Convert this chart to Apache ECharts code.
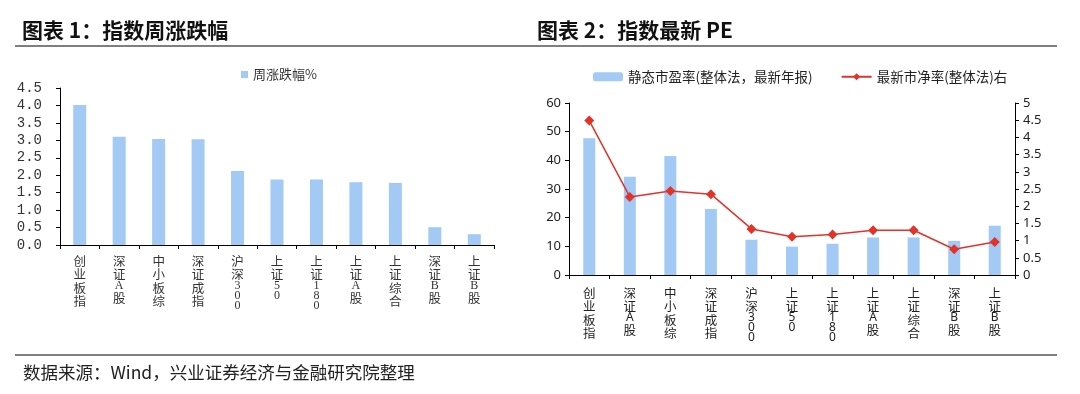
<!DOCTYPE html>
<html>
<head>
<meta charset="utf-8">
<script src="https://cdn.jsdelivr.net/npm/echarts@6/dist/echarts.min.js"></script>
<style>
html,body{margin:0;padding:0;background:#fff;}
#main{width:1080px;height:394px;}
</style>
</head>
<body>
<div id="main"></div>
<script>
const categories = ['创业板指','深证A股','中小板综','深证成指','沪深300','上证50','上证180','上证A股','上证综合','深证B股','上证B股'];
const weeklyChange = [4.01, 3.10, 3.04, 3.03, 2.12, 1.88, 1.88, 1.80, 1.78, 0.51, 0.31];
const peValues = [47.7, 34.3, 41.5, 23.0, 12.3, 9.9, 10.9, 13.1, 13.1, 11.9, 17.2];
const pbValues = [4.49, 2.27, 2.44, 2.35, 1.34, 1.11, 1.18, 1.30, 1.30, 0.75, 0.96];
const leftTicks = [0, 4.5, 0.5];
const peTicks = [0, 60, 10];
const pbTicks = [0, 5, 0.5];

const CJK = '"Noto Sans CJK SC", "Noto Sans", sans-serif';
const SERIF = '"Liberation Serif", "DejaVu Serif", "Noto Sans CJK SC", serif';
const MONO = '"Liberation Mono", "DejaVu Sans Mono", monospace';

function vertical(name) {
  return name.split('').map(ch => /[\u4e00-\u9fff]/.test(ch) ? '{c|' + ch + '}' : '{d|' + ch + '}').join('\n');
}
function richFor(font, color) {
  return {
    c: {fontFamily: CJK, fontSize: 12.5, lineHeight: 13.5, color: color},
    d: {fontFamily: font, fontSize: 12, lineHeight: 10, color: color}
  };
}

const chart = echarts.init(document.getElementById('main'), null, {renderer: 'canvas'});
const barColor = '#A3C9F5';
const lineColor = '#E2332B';

chart.setOption({
  animation: false,
  backgroundColor: '#fff',
  title: [
    {text: '图表 1：指数周涨跌幅', left: 17, top: 15, textStyle: {fontFamily: CJK, fontSize: 21, fontWeight: 'bold', color: '#111'}},
    {text: '图表 2：指数最新 PE', left: 532, top: 15, textStyle: {fontFamily: CJK, fontSize: 21, fontWeight: 'bold', color: '#111'}},
    {text: '数据来源：Wind，兴业证券经济与金融研究院整理', left: 18, top: 359, textStyle: {fontFamily: CJK, fontSize: 17.5, fontWeight: 'normal', color: '#222'}}
  ],
  graphic: [
    {type: 'line', shape: {x1: 15, y1: 46, x2: 1057, y2: 46}, style: {stroke: '#555', lineWidth: 1.5}},
    {type: 'line', shape: {x1: 15, y1: 355, x2: 1057, y2: 355}, style: {stroke: '#555', lineWidth: 1.5}}
  ],
  legend: [
    {
      data: ['周涨跌幅%'], left: 236, top: 63, itemWidth: 7, itemHeight: 7, icon: 'rect', itemGap: 5,
      textStyle: {fontFamily: CJK, fontSize: 13, color: '#333'}
    },
    {
      data: ['静态市盈率(整体法，最新年报)', '最新市净率(整体法)右'], left: 588, top: 65,
      itemWidth: 30, itemHeight: 9, itemGap: 28,
      textStyle: {fontFamily: CJK, fontSize: 13.5, color: '#222'}
    }
  ],
  grid: [
    {left: 60, top: 88, width: 434, height: 157, containLabel: false},
    {left: 569, top: 103, width: 446, height: 172, containLabel: false}
  ],
  xAxis: [
    {
      type: 'category', gridIndex: 0, data: categories,
      axisLine: {show: true, lineStyle: {color: '#000', width: 1}},
      axisTick: {show: true, inside: false, length: 4, lineStyle: {color: '#000'}},
      axisLabel: {interval: 0, margin: 9, formatter: v => vertical(v), rich: richFor(SERIF, '#333'), verticalAlign: 'top'}
    },
    {
      type: 'category', gridIndex: 1, data: categories,
      axisLine: {show: true, lineStyle: {color: '#000', width: 1}},
      axisTick: {show: true, inside: false, length: 4, lineStyle: {color: '#000'}},
      axisLabel: {interval: 0, margin: 11, formatter: v => vertical(v), rich: richFor('"Noto Sans", sans-serif', '#222'), verticalAlign: 'top'}
    }
  ],
  yAxis: [
    {
      type: 'value', gridIndex: 0, min: leftTicks[0], max: leftTicks[1], interval: leftTicks[2],
      axisLine: {show: true, lineStyle: {color: '#000'}},
      axisTick: {show: true, length: 4, lineStyle: {color: '#000'}},
      splitLine: {show: false},
      axisLabel: {margin: 18, fontFamily: MONO, fontSize: 14, color: '#333', formatter: v => v.toFixed(1)}
    },
    {
      type: 'value', gridIndex: 1, min: peTicks[0], max: peTicks[1], interval: peTicks[2],
      axisLine: {show: true, lineStyle: {color: '#000'}},
      axisTick: {show: true, length: 4, lineStyle: {color: '#000'}},
      splitLine: {show: false},
      axisLabel: {margin: 8, fontFamily: '"Noto Sans", sans-serif', fontSize: 13, color: '#222'}
    },
    {
      type: 'value', gridIndex: 1, position: 'right', min: pbTicks[0], max: pbTicks[1], interval: pbTicks[2],
      axisLine: {show: true, lineStyle: {color: '#000'}},
      axisTick: {show: true, length: 4, lineStyle: {color: '#000'}},
      splitLine: {show: false},
      axisLabel: {margin: 8, fontFamily: '"Noto Sans", sans-serif', fontSize: 13, color: '#222'}
    }
  ],
  series: [
    {
      name: '周涨跌幅%', type: 'bar', xAxisIndex: 0, yAxisIndex: 0, data: weeklyChange,
      barWidth: 13, itemStyle: {color: barColor}
    },
    {
      name: '静态市盈率(整体法，最新年报)', type: 'bar', xAxisIndex: 1, yAxisIndex: 1, data: peValues,
      barWidth: 12, itemStyle: {color: barColor}
    },
    {
      name: '最新市净率(整体法)右', type: 'line', xAxisIndex: 1, yAxisIndex: 2, data: pbValues,
      symbol: 'diamond', symbolSize: 10, showSymbol: true,
      lineStyle: {color: lineColor, width: 1.5}, itemStyle: {color: lineColor}
    }
  ]
});
</script>
</body>
</html>
